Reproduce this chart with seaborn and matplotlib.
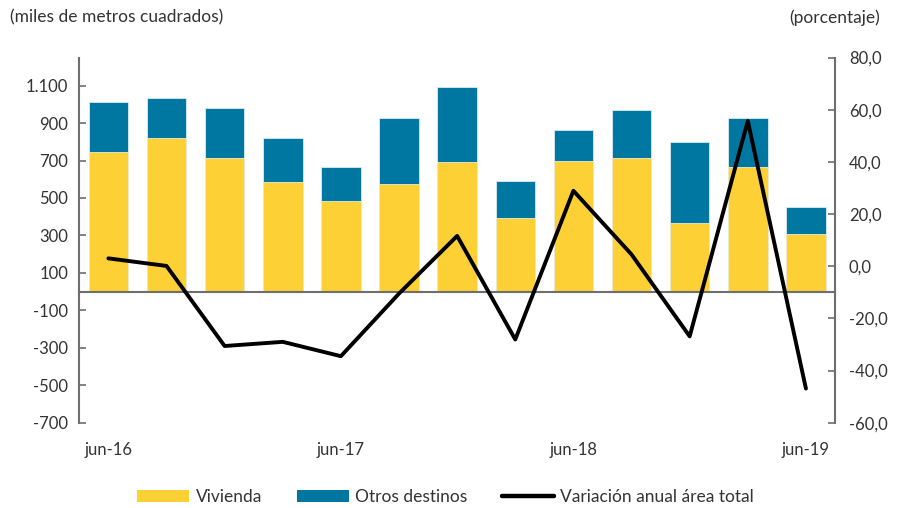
import numpy as np
import pandas as pd
import matplotlib
matplotlib.use("Agg")
import matplotlib.pyplot as plt
import seaborn as sns
from matplotlib.patches import Patch
from matplotlib.lines import Line2D
from matplotlib.ticker import FuncFormatter

# Data
periods = ["jun-16", "sep-16", "dic-16", "mar-17", "jun-17", "sep-17", "dic-17",
           "mar-18", "jun-18", "sep-18", "dic-18", "mar-19", "jun-19"]
vivienda = [743, 818, 711, 583, 486, 572, 690, 392, 700, 711, 369, 668, 305]
otros = [267, 214, 267, 235, 182, 353, 404, 201, 161, 257, 428, 257, 149]
variacion = [3.0, 0.1, -30.6, -29.0, -34.5, -10.5, 11.6, -28.1, 28.9, 4.5, -26.9, 55.7, -46.9]
xtick_labels = ["jun-16", "jun-17", "jun-18", "jun-19"]

YELLOW = "#FDD035"
BLUE = "#0077A0"
GREY = "#6E6E6E"
TEXT = "#333333"

sns.set_style("white")
plt.rcParams["font.family"] = ["Lato", "DejaVu Sans"]
plt.rcParams["font.size"] = 12

df = pd.DataFrame({"periodo": periods, "vivienda": vivienda, "otros": otros})
df["total"] = df["vivienda"] + df["otros"]
df["pos"] = np.arange(len(df))

fig = plt.figure(figsize=(8.99, 5.08), dpi=100)
ax = fig.add_axes([0.0882, 0.1679, 0.8406, 0.7189])

# stacked bars: total in blue, vivienda drawn over it in yellow
sns.barplot(data=df, x="periodo", y="total", color=BLUE, width=0.68,
            linewidth=0.6, edgecolor="#DCEAF2", saturation=1, ax=ax)
sns.barplot(data=df, x="periodo", y="vivienda", color=YELLOW, width=0.68,
            linewidth=0.6, edgecolor="#F3EBD0", saturation=1, ax=ax)

ax.set_xlim(-0.5, len(periods) - 0.5)
ax.set_ylim(-700, 1250)
ax.set_yticks(np.arange(-700, 1101, 200))
ax.yaxis.set_major_formatter(FuncFormatter(lambda v, p: f"{int(v):,}".replace(",", ".")))
ax.set_xlabel("")
ax.set_ylabel("")

# zero axis with small tick marks between years
ax.spines["bottom"].set_position(("data", 0))
ax.set_xticks([3.5, 7.5, 11.5])
ax.set_xticklabels([])
ax.tick_params(axis="x", direction="in", length=6, width=1.2, color=GREY)

sec = ax.secondary_xaxis(0.0)
sec.set_xticks([periods.index(l) for l in xtick_labels])
sec.set_xticklabels(xtick_labels)
sec.tick_params(length=0, pad=14, labelcolor=TEXT, labelsize=12)
sec.spines["bottom"].set_visible(False)

for s in ["top", "right"]:
    ax.spines[s].set_visible(False)
for s in ["left", "bottom"]:
    ax.spines[s].set_color(GREY)
    ax.spines[s].set_linewidth(1.5)
ax.tick_params(axis="y", direction="in", length=5, width=1.2, color=GREY,
               labelcolor=TEXT, labelsize=12, pad=8)

# right axis: annual variation
ax2 = ax.twinx()
sns.lineplot(data=df, x="pos", y=variacion, color="black", linewidth=2.8, ax=ax2)
ax2.set_ylim(-60, 80)
ax2.set_yticks(np.arange(-60, 81, 20))
ax2.yaxis.set_major_formatter(FuncFormatter(lambda v, p: f"{v:.1f}".replace(".", ",")))
ax2.set_ylabel("")
ax2.set_xlim(-0.5, len(periods) - 0.5)
for s in ["top", "left", "bottom"]:
    ax2.spines[s].set_visible(False)
ax2.spines["right"].set_color(GREY)
ax2.spines["right"].set_linewidth(1.5)
ax2.tick_params(axis="y", direction="in", length=5, width=1.2, color=GREY,
                labelcolor=TEXT, labelsize=12, pad=10)

fig.text(0.011, 0.965, "(miles de metros cuadrados)", ha="left", va="center",
         fontsize=12.5, color=TEXT)
fig.text(0.979, 0.965, "(porcentaje)", ha="right", va="center",
         fontsize=12.5, color=TEXT)

handles = [Patch(facecolor=YELLOW, edgecolor="none", label="Vivienda"),
           Patch(facecolor=BLUE, edgecolor="none", label="Otros destinos"),
           Line2D([0], [0], color="black", linewidth=3.2, label="Variación anual área total")]
fig.legend(handles=handles, loc="center", bbox_to_anchor=(0.4956, 0.022), ncol=3,
           frameon=False, fontsize=12.5, handlelength=3.0, handleheight=0.65,
           handletextpad=0.35, columnspacing=2.0, labelcolor=TEXT)

plt.savefig("out.png", dpi=100)
